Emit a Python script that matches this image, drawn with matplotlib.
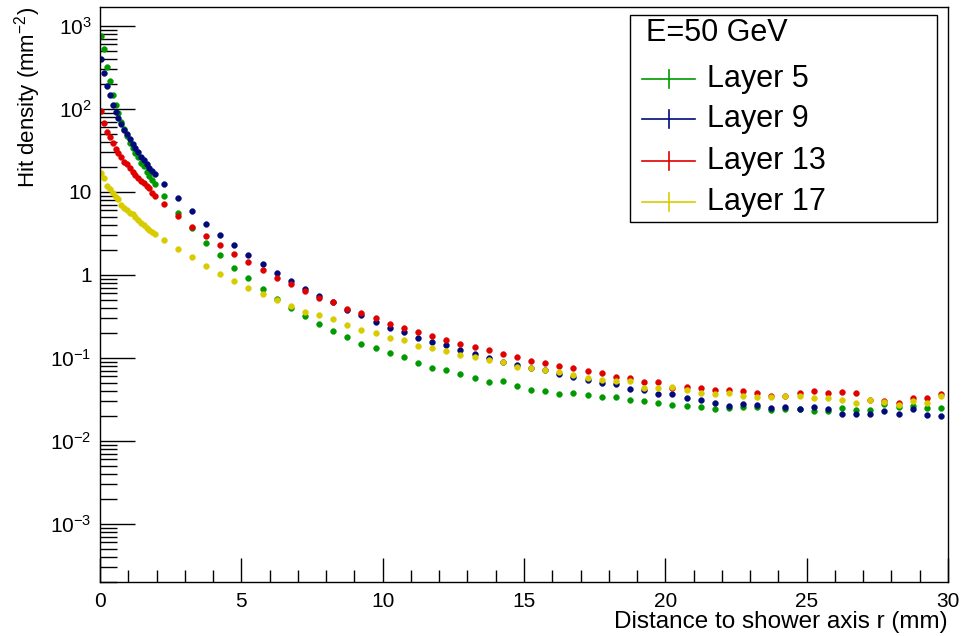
import numpy as np
import matplotlib
matplotlib.use("Agg")
import matplotlib.pyplot as plt
from matplotlib.ticker import FixedLocator, FixedFormatter, LogLocator, NullFormatter, MultipleLocator
from matplotlib.lines import Line2D
from matplotlib.patches import Rectangle

plt.rcParams['font.family'] = ['Liberation Sans', 'DejaVu Sans']
plt.rcParams['mathtext.fontset'] = 'custom'
plt.rcParams['mathtext.rm'] = 'Liberation Sans'
plt.rcParams['mathtext.it'] = 'Liberation Sans:italic'

# radial bins: 0.1 mm up to 2 mm, then 0.5 mm up to 30 mm
r_fine = np.arange(20) * 0.1 + 0.05
r_coarse = np.arange(56) * 0.5 + 2.25
r = np.concatenate([r_fine, r_coarse])

layer5 = [752, 520, 316, 216, 146, 110, 88, 70, 56.5, 46.9,
          38.9, 33.3, 29.5, 25.9, 22, 20.4, 17.4, 15.5, 13.8, 12.3,
          8.95, 5.5, 3.62, 2.43, 1.71, 1.21, 0.91, 0.68, 0.51, 0.40,
          0.32, 0.255, 0.211,
          0.177, 0.148, 0.130, 0.115, 0.102, 0.0857, 0.0751, 0.0711, 0.063, 0.0569,
          0.0506, 0.0524, 0.0452, 0.0404, 0.0394, 0.0368, 0.0379, 0.0355, 0.0334, 0.0339,
          0.0312, 0.0301, 0.0284, 0.0269, 0.0264, 0.0257, 0.0239, 0.0250, 0.0257, 0.0252,
          0.0232, 0.0243, 0.0241, 0.0230, 0.0228, 0.0245, 0.0237, 0.0237, 0.0277, 0.0257,
          0.0264, 0.0250, 0.0250]

layer9 = [400, 272, 188, 146, 111, 91, 76.5, 65.4, 55.4, 49.2,
          42.8, 37.2, 33.4, 29.8, 26.4, 24.1, 21.6, 19.5, 17.9, 16.3,
          12.5, 8.3, 5.8, 4.08, 3.0, 2.26, 1.71, 1.33, 1.04, 0.83,
          0.67, 0.56, 0.465,
          0.376, 0.324, 0.269, 0.228, 0.204, 0.174, 0.155, 0.141, 0.124, 0.112,
          0.100, 0.0895, 0.081, 0.0758, 0.0711, 0.063, 0.058, 0.0543, 0.0496, 0.0486,
          0.0424, 0.0409, 0.0366, 0.0366, 0.0327, 0.0312, 0.0284, 0.0259, 0.0279, 0.0269,
          0.0250, 0.0252, 0.0239, 0.0255, 0.0243, 0.0208, 0.0208, 0.0210, 0.0226, 0.0210,
          0.0239, 0.0202, 0.0200]

layer13 = [93, 66.7, 52.9, 46, 38.3, 32.4, 29.5, 25.9, 23, 21.6,
           19.5, 17.4, 15.9, 14.5, 13.4, 12.6, 11.8, 11.0, 9.7, 8.95,
           7.2, 5.1, 3.79, 2.92, 2.26, 1.78, 1.42, 1.13, 0.92, 0.77,
           0.64, 0.52, 0.465,
           0.389, 0.346, 0.303, 0.255, 0.226, 0.202, 0.184, 0.162, 0.148, 0.135,
           0.123, 0.110, 0.101, 0.0905, 0.087, 0.080, 0.0745, 0.0697, 0.0654, 0.058,
           0.0575, 0.0514, 0.0514, 0.0435, 0.0443, 0.0435, 0.0412, 0.0412, 0.0401, 0.0376,
           0.0346, 0.0349, 0.0372, 0.0394, 0.0372, 0.0390, 0.0372, 0.0312, 0.0301, 0.0282,
           0.0324, 0.0327, 0.0362]

layer17 = [16.6, 14.5, 11.8, 10.7, 9.6, 8.6, 8.1, 6.9, 6.4, 6.0,
           5.6, 5.35, 4.9, 4.56, 4.16, 3.97, 3.68, 3.46, 3.30, 3.09,
           2.62, 2.04, 1.65, 1.27, 1.01, 0.83, 0.69, 0.59, 0.50, 0.42,
           0.36, 0.324, 0.29,
           0.250, 0.217, 0.197, 0.174, 0.162, 0.140, 0.131, 0.120, 0.1087, 0.102,
           0.0937, 0.0887, 0.078, 0.0758, 0.0717, 0.0667, 0.0619, 0.0565, 0.0539, 0.0528,
           0.0528, 0.0435, 0.0428, 0.0448, 0.0409, 0.0376, 0.0366, 0.0380, 0.0346, 0.0333,
           0.0336, 0.0349, 0.0343, 0.0324, 0.0324, 0.0309, 0.0284, 0.0312, 0.0290, 0.0267,
           0.0298, 0.0284, 0.0346]

series_labels = ["Layer 5", "Layer 9", "Layer 13", "Layer 17"]
series_colors = ["#009a00", "#000a78", "#e00000", "#d8cc00"]
header = "E=50 GeV"

y_ticks = [1e-3, 1e-2, 1e-1, 1, 10, 1e2, 1e3]
y_tick_labels = [r"$10^{-3}$", r"$10^{-2}$", r"$10^{-1}$", "1", "10", r"$10^{2}$", r"$10^{3}$"]

W, H = 961, 636
fig = plt.figure(figsize=(W / 100, H / 100), dpi=100)
ax = fig.add_axes([100 / W, (H - 582) / H, 848 / W, 575 / H])

for vals, col in zip([layer5, layer9, layer13, layer17], series_colors):
    ax.plot(r, vals, linestyle="none", marker="o", markersize=4.2,
            markerfacecolor=col, markeredgecolor=col, markeredgewidth=0.3)

ax.set_xlim(0, 30)
ax.set_yscale("log")
ax.set_ylim(1.99e-4, 1680)

ax.xaxis.set_major_locator(MultipleLocator(5))
ax.xaxis.set_minor_locator(MultipleLocator(1))
ax.yaxis.set_major_locator(FixedLocator(y_ticks))
ax.yaxis.set_major_formatter(FixedFormatter(y_tick_labels))
ax.yaxis.set_minor_locator(LogLocator(base=10, subs=np.arange(2, 10), numticks=20))
ax.yaxis.set_minor_formatter(NullFormatter())

ax.tick_params(axis="x", which="major", direction="in", length=17, width=1,
               labelsize=15, pad=7, top=False)
ax.tick_params(axis="x", which="minor", direction="in", length=8.5, width=1, top=False)
ax.tick_params(axis="y", which="major", direction="in", length=25, width=1,
               labelsize=15, pad=6, right=False)
ax.tick_params(axis="y", which="minor", direction="in", length=12.5, width=1, right=False)

for s in ax.spines.values():
    s.set_linewidth(1.0)

ax.set_xlabel("Distance to shower axis r (mm)", fontsize=17.5, loc="right", labelpad=0)
ax.set_ylabel(r"Hit density (mm$^{\mathregular{-2}}$)", fontsize=16, loc="top", labelpad=5)


def fx(px):
    return px / W


def fy(py):
    return 1 - py / H


# legend box with header and one error-bar cross per layer
fig.add_artist(Rectangle((fx(630), fy(222)), fx(937) - fx(630), fy(15) - fy(222),
                         transform=fig.transFigure, facecolor="white",
                         edgecolor="black", linewidth=1.0, zorder=5))
fig.text(fx(646), fy(33), header, fontsize=22, va="center", ha="left", zorder=6)
row_y = [79, 119, 161, 202]
for yy, lab, col in zip(row_y, series_labels, series_colors):
    fig.add_artist(Line2D([fx(642), fx(695)], [fy(yy), fy(yy)], color=col, lw=1.2,
                          transform=fig.transFigure, zorder=6))
    fig.add_artist(Line2D([fx(668.5), fx(668.5)], [fy(yy - 9), fy(yy + 9)], color=col,
                          lw=1.2, transform=fig.transFigure, zorder=6))
    fig.text(fx(707), fy(yy), lab, fontsize=22, va="center", ha="left", zorder=6)

fig.savefig("out.png", dpi=100)
